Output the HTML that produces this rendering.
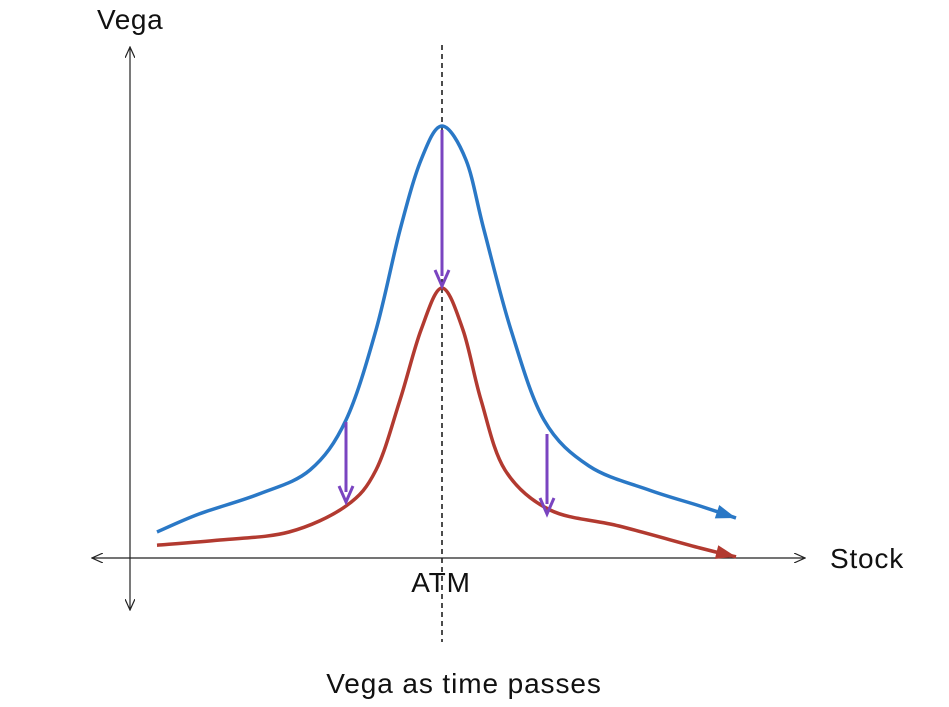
<!DOCTYPE html>
<html><head><meta charset="utf-8"><style>
html,body{margin:0;padding:0;background:#fff;}
svg{display:block;font-family:"Liberation Sans",Arial,sans-serif;}
</style></head><body>
<svg id="chart" width="949" height="707" viewBox="0 0 949 707">
<defs>
<marker id="openArrow" markerWidth="12" markerHeight="10" refX="11" refY="5" orient="auto" markerUnits="userSpaceOnUse">
<path d="M0,0 L11,5 L0,10" fill="none" stroke="#222" stroke-width="1.2"/>
</marker>
</defs>
<line x1="442" y1="45" x2="442" y2="642" stroke="#111" stroke-width="1.5" stroke-dasharray="5,4"/>
<line x1="130" y1="558" x2="92" y2="558" stroke="#222" stroke-width="1.2" marker-end="url(#openArrow)"/>
<line x1="130" y1="558" x2="805" y2="558" stroke="#222" stroke-width="1.2" marker-end="url(#openArrow)"/>
<line x1="130" y1="300" x2="130" y2="47" stroke="#222" stroke-width="1.2" marker-end="url(#openArrow)"/>
<line x1="130" y1="300" x2="130" y2="610" stroke="#222" stroke-width="1.2" marker-end="url(#openArrow)"/>
<text x="97" y="29" font-size="28" letter-spacing="0.6" fill="#111">Vega</text>
<text x="830" y="568" font-size="28" letter-spacing="0.8" fill="#111">Stock</text>
<text x="441" y="592" font-size="28" letter-spacing="0.8" fill="#111" text-anchor="middle">ATM</text>
<text x="464" y="693" font-size="28" letter-spacing="0.9" fill="#111" text-anchor="middle">Vega as time passes</text>
<g id="marks"></g>
</svg>
<script>
const blueStock=[-95,-81,-61,-44,-32,-22,-14,-7,0,8,14,23,34,49,69,86,98];
const blueVega=[6.5,11,16,22,34.5,57,82,99.5,108,99.5,82,57,34.5,23,17,13,10];
const redStock=[-95,-74,-51,-32,-22,-14,-7,0,7,13,21,36,59,86,98];
const redVega=[3.2,4.5,6.5,13,22,39.5,57,67.5,57,39.5,22,12,8,2.5,0.3];
const arrowStock=[0,-32,35];
const arrowFrom=[107,34,31];
const arrowTo=[68,14,11];
function xS(s){return 442+s*3;}
function yS(v){return 558-v*4;}
const NS="http://www.w3.org/2000/svg";
const g=document.getElementById('marks');
function smooth(xs,ys){
  const p=xs.map((s,i)=>[xS(s),yS(ys[i])]);
  let d="M"+p[0][0]+","+p[0][1];
  for(let i=0;i<p.length-1;i++){
    const p0=p[Math.max(0,i-1)],p1=p[i],p2=p[i+1],p3=p[Math.min(p.length-1,i+2)];
    const c1=[p1[0]+(p2[0]-p0[0])/6,p1[1]+(p2[1]-p0[1])/6];
    const c2=[p2[0]-(p3[0]-p1[0])/6,p2[1]-(p3[1]-p1[1])/6];
    d+=" C"+c1[0]+","+c1[1]+" "+c2[0]+","+c2[1]+" "+p2[0]+","+p2[1];
  }
  return {d:d,p:p};
}
function head(x1,y1,x2,y2,color,len,w){
  const a=Math.atan2(y2-y1,x2-x1);
  const tip=[x2,y2];
  const b=[tip[0]-Math.cos(a)*len,tip[1]-Math.sin(a)*len];
  const l=[b[0]+Math.sin(a)*w,b[1]-Math.cos(a)*w];
  const r=[b[0]-Math.sin(a)*w,b[1]+Math.cos(a)*w];
  const h=document.createElementNS(NS,'path');
  h.setAttribute('d',"M"+tip+" L"+l+" L"+r+" Z");
  h.setAttribute('fill',color);
  return h;
}
function curve(xs,ys,color,name){
  const r=smooth(xs,ys);
  const path=document.createElementNS(NS,'path');
  path.setAttribute('d',r.d);
  path.setAttribute('fill','none');
  path.setAttribute('stroke',color);
  path.setAttribute('stroke-width','3.5');
  
  
  g.appendChild(path);
  const n=r.p.length;
  const h=head(r.p[n-2][0],r.p[n-2][1],r.p[n-1][0],r.p[n-1][1],color,20,7);
  
  
  g.appendChild(h);
}
curve(blueStock,blueVega,'#2a78c6','blue-vega-curve');
curve(redStock,redVega,'#b23a30','red-vega-curve');
arrowStock.forEach((s,i)=>{
  const x=xS(s),y1=yS(arrowFrom[i]),y2=yS(arrowTo[i]);
  const ln=document.createElementNS(NS,'line');
  ln.setAttribute('x1',x);ln.setAttribute('x2',x);
  ln.setAttribute('y1',y1);ln.setAttribute('y2',y2-10);
  ln.setAttribute('stroke','#7a44c0');ln.setAttribute('stroke-width','3');
  
  
  g.appendChild(ln);
  const hd=document.createElementNS(NS,'path');
  hd.setAttribute('d',`M${x-7},${y2-16} L${x},${y2} L${x+7},${y2-16}`);
  hd.setAttribute('fill','none');hd.setAttribute('stroke','#7a44c0');hd.setAttribute('stroke-width','3');
  
  
  g.appendChild(hd);
});
</script>
</body></html>
